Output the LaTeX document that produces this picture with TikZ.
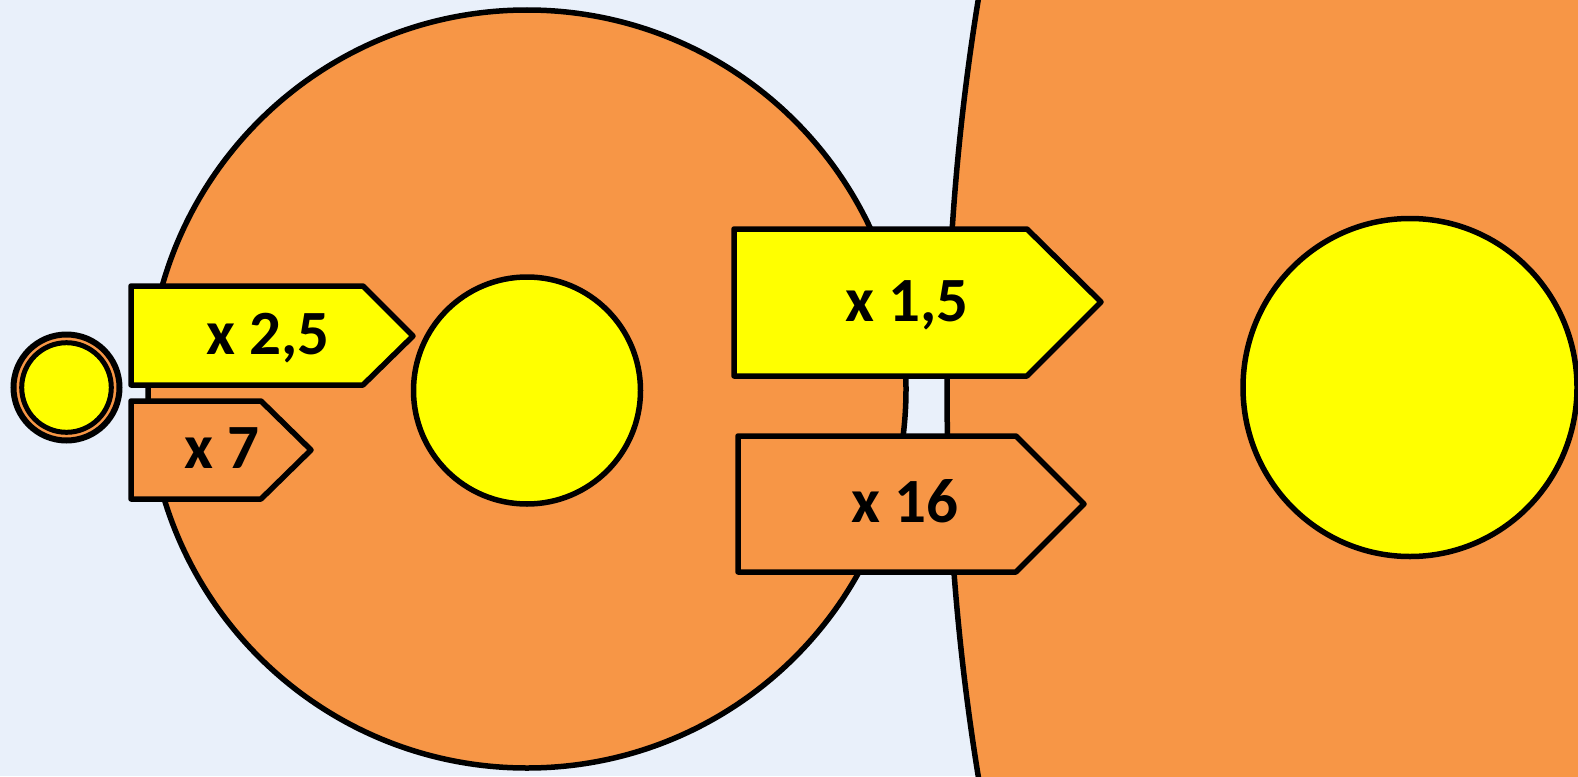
\documentclass[tikz,border=0pt]{standalone}
\usepackage{fontspec}
\setmainfont{Carlito}
\definecolor{bgblue}{HTML}{E9F0FA}
\definecolor{orng}{HTML}{F79646}
\definecolor{yel}{HTML}{FFFF00}
\begin{document}
\begin{tikzpicture}[x=1pt,y=-1pt,
  outl/.style={draw=black,line width=5.5pt,line join=round},
  lbl/.style={font=\fontsize{63}{70}\selectfont\bfseries,anchor=base,inner sep=0pt}]
\useasboundingbox (0,0) rectangle (1578,776);
\fill[bgblue] (0,0) rectangle (1578,776);
\begin{scope}
\clip (0,0) rectangle (1578,776);
% big left circle
\draw[outl,fill=orng] (527,389) circle[radius=379];
% huge right circle
\draw[outl,fill=orng] (3347,388) circle[radius=2400];
% yellow inner circles
\draw[outl,fill=yel] (527,390.5) circle[radius=113.5];
\draw[outl,fill=yel] (1410,387.5) ellipse[x radius=167,y radius=169];
% small circle
\draw[draw=black,line width=6pt,fill=orng] (66.5,387.5) circle[radius=53];
\draw[draw=black,line width=5pt,fill=yel] (66.5,387.5) circle[radius=44.8];
% arrows
\draw[outl,fill=yel] (131,286) -- (363,286) -- (413,336) -- (363,385) -- (131,385) -- cycle;
\draw[outl,fill=orng] (131,401) -- (261,401) -- (311,450) -- (261,499) -- (131,499) -- cycle;
\draw[outl,fill=yel] (734,229) -- (1027,229) -- (1101,302) -- (1027,376) -- (734,376) -- cycle;
\draw[outl,fill=orng] (738,436) -- (1016,436) -- (1084,504) -- (1016,572) -- (738,572) -- cycle;
\end{scope}
\node[lbl] (t25) at (268,354) {x 2,5};
\node[lbl] (t7) at (222,468) {x 7};
\node[lbl] (t15) at (907,321) {x 1,5};
\node[lbl] (t16) at (905,522) {x 16};
\end{tikzpicture}
\end{document}
